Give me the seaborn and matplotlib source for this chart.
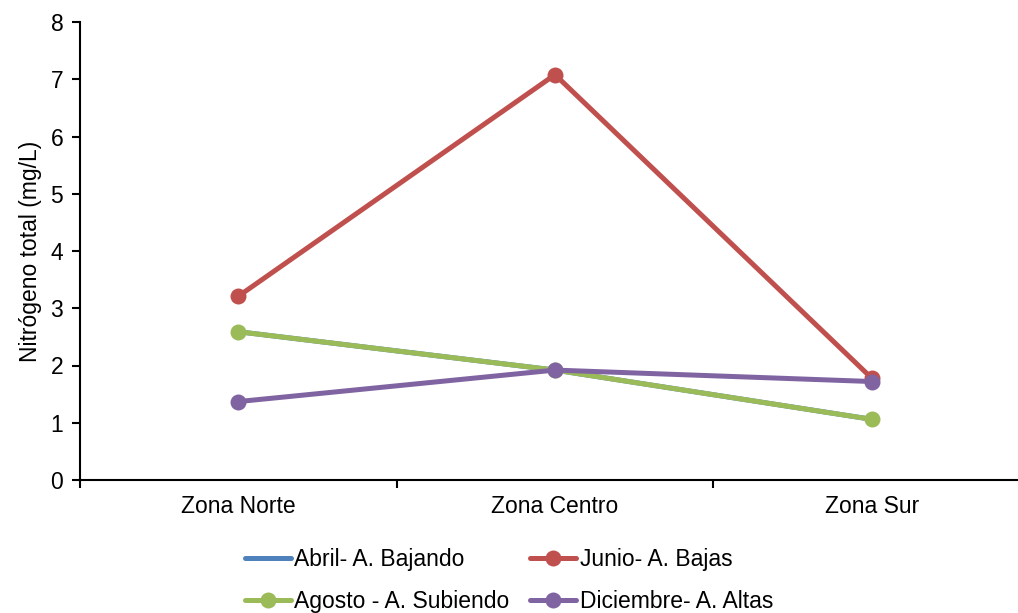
import numpy as np
import pandas as pd
import matplotlib
matplotlib.use("Agg")
import matplotlib.pyplot as plt
import seaborn as sns

# ── Datos ─────────────────────────────────────────────────────────────────────
zonas = ["Zona Norte", "Zona Centro", "Zona Sur"]
series = ["Abril- A. Bajando", "Junio- A. Bajas", "Agosto - A. Subiendo", "Diciembre- A. Altas"]
abril = [2.59, 1.92, 1.06]
junio = [3.21, 7.08, 1.78]
agosto = [2.59, 1.92, 1.06]
diciembre = [1.37, 1.92, 1.72]

COLORS = {"Abril- A. Bajando": "#4F81BD", "Junio- A. Bajas": "#C0504D",
          "Agosto - A. Subiendo": "#9BBB59", "Diciembre- A. Altas": "#8064A2"}
MARKERS = {"Abril- A. Bajando": False, "Junio- A. Bajas": True,
           "Agosto - A. Subiendo": True, "Diciembre- A. Altas": True}

df = pd.DataFrame({
    "zona": zonas * 4,
    "serie": np.repeat(series, 3),
    "valor": abril + junio + agosto + diciembre,
})
df["x"] = df["zona"].map({z: i for i, z in enumerate(zonas)})

sns.set_theme(style="white")
plt.rcParams["font.family"] = ["Liberation Sans", "DejaVu Sans"]
plt.rcParams["text.color"] = "black"
plt.rcParams["axes.labelcolor"] = "black"
plt.rcParams["xtick.color"] = "black"
plt.rcParams["ytick.color"] = "black"
FS = 16.5

fig = plt.figure(figsize=(10.18, 6.13), dpi=100)
ax = fig.add_axes([80 / 1018, 133 / 613, 950 / 1018, 458 / 613])

handles = {}
for s in series:
    sub = df[df["serie"] == s]
    sns.lineplot(data=sub, x="x", y="valor", ax=ax, color=COLORS[s], linewidth=3.6,
                 marker="o" if MARKERS[s] else None, markersize=11.5,
                 markeredgewidth=0, label=s, legend=False)
    handles[s] = ax.lines[-1]

ax.set_xlim(-0.5, 2.5)
ax.set_ylim(0, 8)
ax.set_yticks(range(0, 9))
ax.set_xticks(range(3))
ax.set_xticklabels(zonas, fontsize=FS)
ax.set_xticks([-0.5, 0.5, 1.5, 2.5], minor=True)
ax.tick_params(axis="x", which="major", length=0, pad=11)
ax.tick_params(axis="x", which="minor", length=6, width=1.5, direction="out", color="black", bottom=True)
ax.tick_params(axis="y", length=6, width=1.5, direction="out", color="black", left=True, labelsize=FS, pad=6)
for side in ["top", "right"]:
    ax.spines[side].set_visible(False)
for side in ["left", "bottom"]:
    ax.spines[side].set_color("black")
    ax.spines[side].set_linewidth(1.5)
ax.set_xlabel("")
ax.set_ylabel("Nitrógeno total (mg/L)", fontsize=FS, labelpad=6)
ax.grid(False)

order = ["Abril- A. Bajando", "Agosto - A. Subiendo", "Junio- A. Bajas", "Diciembre- A. Altas"]
fig.legend([handles[s] for s in order], order, loc="center", bbox_to_anchor=(0.5, 0.053),
           ncol=2, frameon=False, fontsize=FS, handlelength=2.0, handletextpad=0.15,
           columnspacing=0.9, labelspacing=0.85, borderpad=0)

fig.savefig("out.png", dpi=100)
